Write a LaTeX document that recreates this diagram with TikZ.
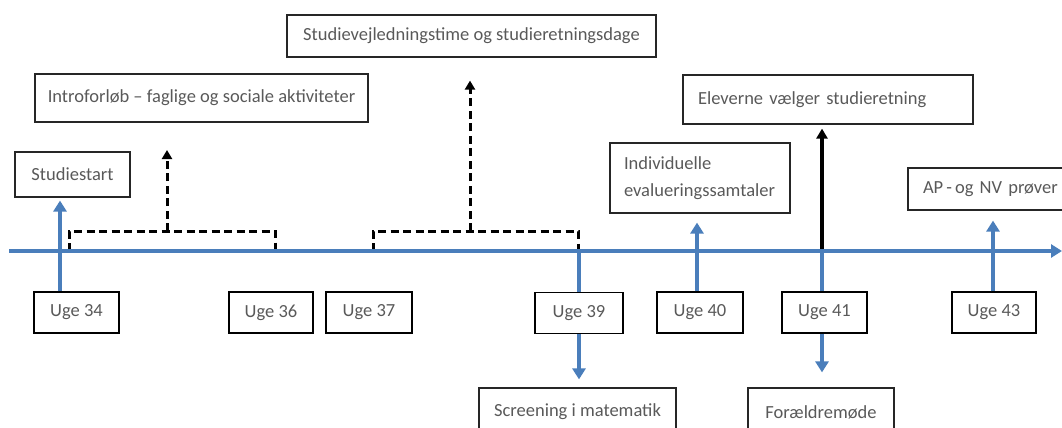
\documentclass[tikz,border=0pt]{standalone}
\usepackage{fontspec}
\setmainfont{Carlito}
\usetikzlibrary{arrows.meta}
\definecolor{lineblue}{HTML}{4A7EBB}
\definecolor{textgray}{HTML}{595959}

\begin{document}
\begin{tikzpicture}[x=1pt,y=-1pt,every node/.style={font=\fontsize{18.5}{27}\selectfont,text=textgray}]
% Styles for the boxes and the arrows
\tikzstyle{week box}=[draw=black,line width=1.5pt,minimum width=85pt,minimum height=41pt,inner sep=0pt]
\tikzstyle{event box}=[draw=black!85,line width=1.2pt,inner ysep=0pt]
\tikzset{
blue line/.style={draw=lineblue,line width=4pt},
blue arrow/.style={draw=lineblue,line width=4pt,-{Triangle[width=13pt,length=11pt]}},
dash line/.style={draw=black,line width=3pt,dash pattern=on 8pt off 4.5pt},
dash arrow/.style={dash line,-{Triangle[width=10pt,length=9pt]}},
black arrow/.style={draw=black,line width=3.2pt,-{Triangle[width=11pt,length=10pt]}}
}
\useasboundingbox (0,0) rectangle (1062,428);

% Weeks below the time line
\node[week box] (uge34) at (76.5,312.5) {Uge 34};
\node[week box,minimum width=84pt] (uge36) at (271,312.5) {Uge 36};
\node[week box,minimum width=86pt] (uge37) at (369,312.5) {Uge 37};
\node[week box,minimum width=88pt] (uge39) at (579,313) {Uge 39};
\node[week box,minimum width=86pt] (uge40) at (700,312.5) {Uge 40};
\node[week box] (uge41) at (824.5,312.5) {Uge 41};
\node[week box,minimum width=84pt] (uge43) at (994,312.5) {Uge 43};

% Events
\node[event box,minimum width=115pt,minimum height=45pt] (studiestart) at (72.5,174.5) {Studiestart};
\node[event box,minimum width=333pt,minimum height=48pt] (intro) at (201.5,98) {Introforløb – faglige og sociale aktiviteter};
\node[event box,minimum width=369pt,minimum height=42pt] (studievejl) at (471.5,36) {Studievejledningstime og studieretningsdage};
\node[event box,text width=152pt,align=left,inner xsep=14pt,minimum height=70pt] (individuelle) at (700,178) {Individuelle\\evalueringssamtaler};
\node[event box,text width=260pt,align=left,inner xsep=15pt,minimum height=49pt] (eleverne) at (828,99.5) {\mbox{Eleverne vælger studieretning}};
\node[event box,text width=130pt,align=left,inner xsep=15pt,minimum height=42pt] (ap) at (988,189) {\mbox{AP\,-\,og NV prøver}};
\node[event box,minimum width=197pt,minimum height=48pt] (screening) at (577.5,412) {Screening i matematik};
\node[event box,minimum width=146pt,minimum height=48pt] (foraeldre) at (821,412) {Forældremøde};

% Points on the time line
\coordinate (tlstart) at (9,251);
\coordinate (tlend) at (1062,251);
\coordinate (t34) at (60,251);
\coordinate (t39) at (579,251);
\coordinate (t40) at (697,251);
\coordinate (t41) at (822,251);
\coordinate (t43) at (993,251);
\coordinate (intl) at (69,251);
\coordinate (intr) at (275,251);
\coordinate (inttop) at (167,231);
\coordinate (inttip) at (167,150);
\coordinate (vejll) at (373,251);
\coordinate (vejlr) at (578,251);
\coordinate (vejltop) at (470,231);

% Dashed periods
\draw[dash line] (intl) |- (inttop) -| (intr);
\draw[dash arrow] (inttop) -- (inttip);
\draw[dash line] (vejll) |- (vejltop) -| (vejlr);
\draw[dash arrow,shorten >=23pt] (vejltop) -- (studievejl.south -| vejltop);
\draw[black arrow,shorten >=4pt] (t41) -- (eleverne.south -| t41);

\draw[blue arrow] (tlstart) -- (tlend);

\draw[blue arrow,shorten >=3pt] (uge34.north -| t34) -- (studiestart.south -| t34);
\draw[blue line] (t39) -- (uge39.north);
\draw[blue arrow,shorten >=8pt] (uge39.south) -- (screening.north -| uge39.south);
\draw[blue arrow,shorten >=9pt] (uge40.north -| t40) -- (individuelle.south -| t40);
\draw[blue line] (t41) -- (uge41.north -| t41);
\draw[blue arrow,shorten >=15pt] (uge41.south -| t41) -- (foraeldre.north -| t41);
\draw[blue arrow,shorten >=10pt] (uge43.north -| t43) -- (ap.south -| t43);
\end{tikzpicture}
\end{document}
